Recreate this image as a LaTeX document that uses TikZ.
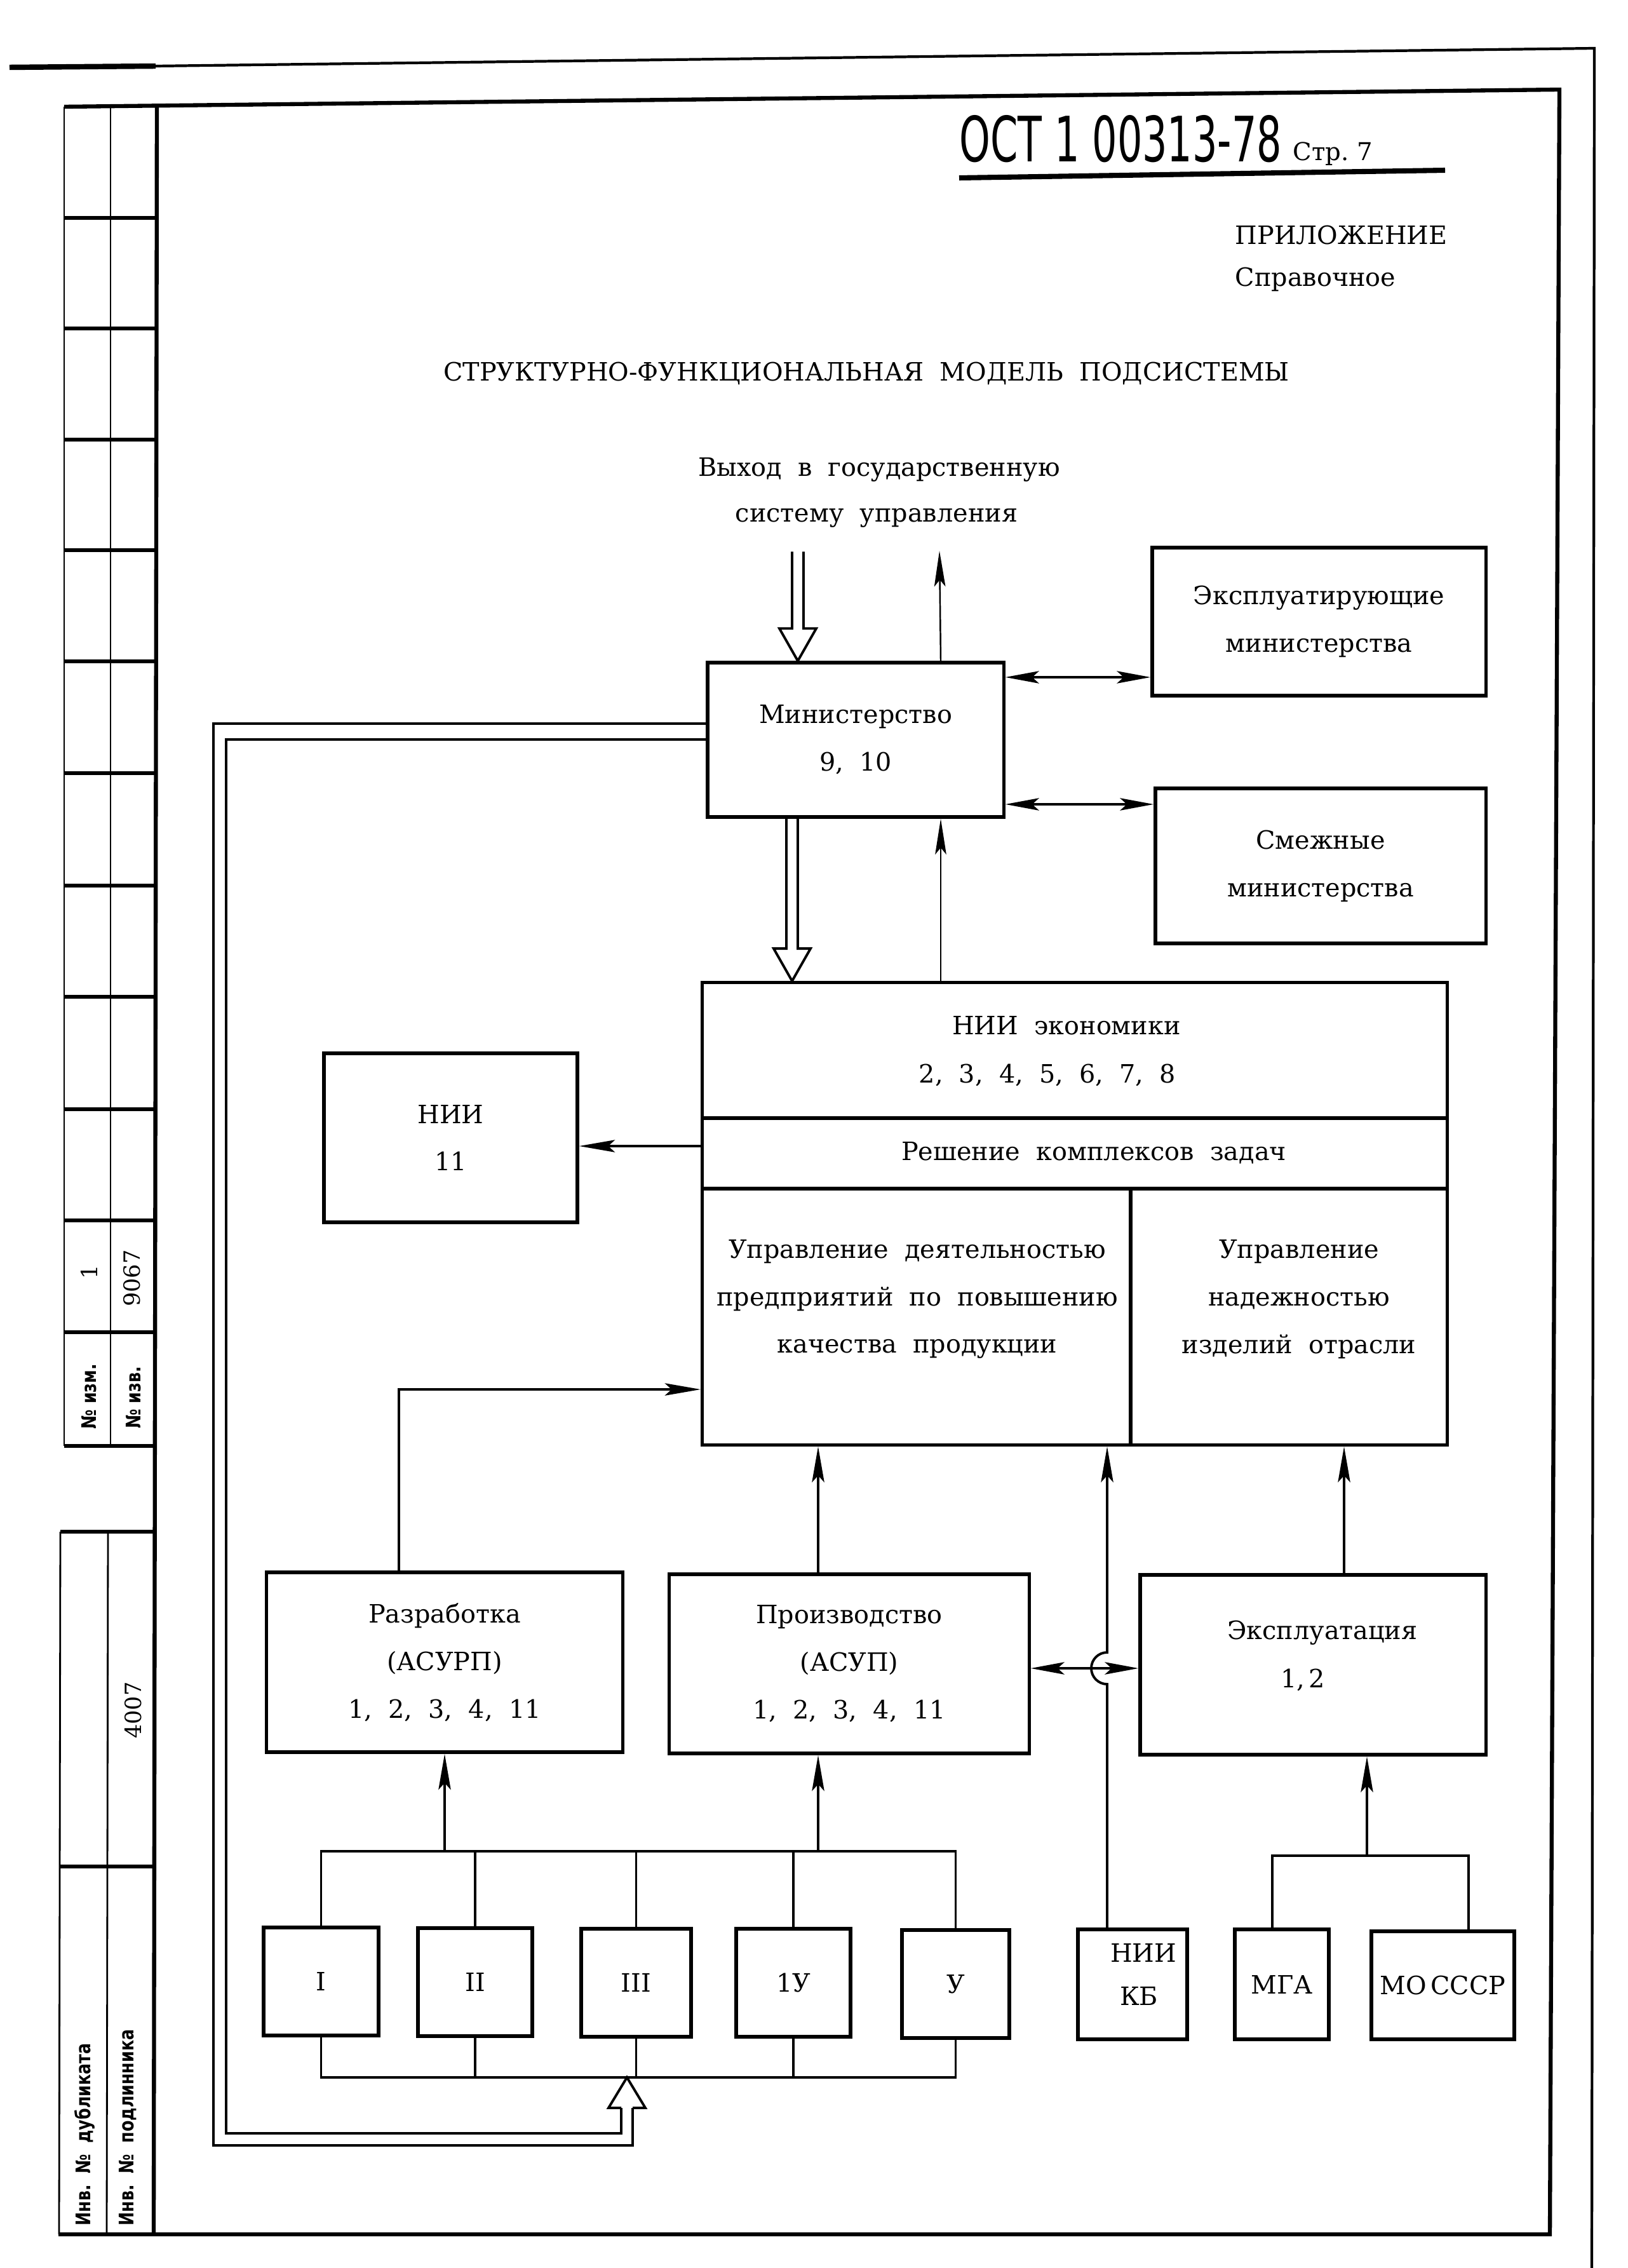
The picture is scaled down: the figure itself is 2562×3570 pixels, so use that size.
\documentclass[tikz,border=0pt]{standalone}
\usepackage{fontspec}
\usepackage{graphicx}
\setmainfont{DejaVu Serif}
\newfontfamily\hdrfont{DejaVu Sans}
\newfontfamily\stripfont{DejaVu Sans}
\usetikzlibrary{arrows.meta,calc}
\newcommand\boxfont{\fontsize{11.3}{21.3}\selectfont}
\newcommand\stripf{\stripfont\bfseries\fontsize{9}{10}\selectfont}
\newcommand\stripn{\mdseries\fontspec{DejaVu Serif}\fontsize{10}{10}\selectfont}
\begin{document}
\begin{tikzpicture}[x=0.01cm,y=-0.01cm,
  box/.style={draw, line width=1.5pt, inner sep=0pt, align=center, font=\boxfont},
  txt/.style={inner sep=0pt, font=\boxfont},
  conn/.style={line width=1.1pt},
  arr/.style={line width=1.1pt, -{Stealth[length=16pt,width=5.5pt,inset=3pt]}},
  thinarr/.style={line width=0.7pt, -{Stealth[length=16pt,width=5pt,inset=3pt]}},
  darr/.style={line width=1.2pt, {Stealth[length=15pt,width=5.5pt,inset=3pt]}-{Stealth[length=15pt,width=5.5pt,inset=3pt]}},
  hol/.style={line width=1.1pt, line join=miter},
  fb/.style={line width=1.3pt},
  frame/.style={line width=1.8pt},
  stripline/.style={line width=0.8pt},
  stripdiv/.style={line width=1.5pt},
  striptxt/.style={inner sep=0pt, rotate=90, font=\stripf}]
\useasboundingbox (0,0) rectangle (2562,3570);

% ---- sheet edges and frame ----
\draw[line width=2.4pt] (15,106) -- (245,104);
\draw[line width=1.2pt] (245,104) -- (2510,76) -- (2506,3570);
\draw[frame] (101,168) -- (2455,141) -- (2440,3517) -- (92,3517);
\draw[frame] (247,167) -- (242,3517);
% upper strip
\draw[stripline] (101,168) -- (101,2276);
\draw[stripline] (174,168) -- (174,2276);
\foreach \yy in {343,517,692,866,1041,1217,1394,1569,1746,1921,2097,2276}
  \draw[stripdiv] (101,\yy) -- (246,\yy);
% lower strip
\draw[stripline] (95,2411) -- (93,3517);
\draw[stripline] (170,2411) -- (168,3517);
\draw[stripdiv] (95,2411) -- (245,2411);
\draw[stripdiv] (94,2938) -- (244,2938);
% strip texts
\node[striptxt] (s1) at (140,2002) {\stripn 1};
\node[striptxt] (s2) at (208,2012) {\stripn 9067};
\node[striptxt] (s3) at (140,2198) {\scalebox{0.8}[1]{№\ изм.}};
\node[striptxt] (s4) at (210,2200) {\scalebox{0.8}[1]{№\ изв.}};
\node[striptxt] (s5) at (210,2692) {\stripn 4007};
\node[striptxt] (s6) at (133,3360) {\scalebox{0.8}[1]{Инв.\ \ №\ \ дубликата}};
\node[striptxt] (s7) at (201,3349) {\scalebox{0.8}[1]{Инв.\ \ №\ \ подлинника}};

% ---- header ----
\node[anchor=base west, inner sep=0pt] (ost) at (1510,255)
  {\hdrfont\fontsize{28}{28}\selectfont\scalebox{0.63}[1]{ОСТ\ 1\ 00313-78}};
\node[anchor=base west, inner sep=0pt] (page) at (2035,253)
  {\fontsize{11}{12}\selectfont Стр.\ 7};
\draw[line width=2.3pt] (1510,280) -- (2275,268);
\node[txt, anchor=west] (pril) at (1944,370) {ПРИЛОЖЕНИЕ};
\node[txt, anchor=west] (sprav) at (1944,440) {Справочное};
\node[txt] (title) at (1364,588) {СТРУКТУРНО-ФУНКЦИОНАЛЬНАЯ\ \ МОДЕЛЬ\ \ ПОДСИСТЕМЫ};
\node[txt] (vyh1) at (1384,739) {Выход\ \ в\ \ государственную};
\node[txt] (vyh2) at (1380,815) {систему\ \ управления};

% ---- boxes ----
\node[box, minimum width=4.66cm, minimum height=2.43cm] (min) at (1347,1164.5) {Министерство\\9,\ \ 10};
\node[box, minimum width=5.25cm, minimum height=2.33cm] (expl) at (2076.5,978.5) {Эксплуатирующие\\министерства};
\node[box, minimum width=5.20cm, minimum height=2.44cm] (smezh) at (2079,1363) {Смежные\\министерства};
\node[box, minimum width=11.72cm, minimum height=7.27cm] (econ) at (1692,1910.5) {};
\node[box, minimum width=3.99cm, minimum height=2.66cm] (nii11) at (709.5,1791) {НИИ\\11};
\node[box, minimum width=5.60cm, minimum height=2.83cm] (razr) at (700,2616.5) {Разработка\\(АСУРП)\\1,\ \ 2,\ \ 3,\ \ 4,\ \ 11};
\node[box, minimum width=5.66cm, minimum height=2.82cm] (proizv) at (1337,2619) {Производство\\(АСУП)\\1,\ \ 2,\ \ 3,\ \ 4,\ \ 11};
\node[box, minimum width=5.44cm, minimum height=2.83cm] (ekspl) at (2067,2620.5) {};
\node[txt] (eksplt1) at (2082,2570) {Эксплуатация};
\node[txt] (eksplt2) at (2051,2644) {1,\,2};
\node[box, minimum width=1.81cm, minimum height=1.70cm] (b1) at (505.5,3119) {I};
\node[box, minimum width=1.80cm, minimum height=1.70cm] (b2) at (748,3120) {II};
\node[box, minimum width=1.73cm, minimum height=1.70cm] (b3) at (1001.5,3121) {III};
\node[box, minimum width=1.80cm, minimum height=1.70cm] (b4) at (1249,3121) {1У};
\node[box, minimum width=1.69cm, minimum height=1.70cm] (b5) at (1504.5,3123) {У};
\node[box, minimum width=1.72cm, minimum height=1.73cm] (niikb) at (1783,3123.5) {};
\node[txt, align=center] (niikbt) at (1800,3108) {НИИ\\[-2pt]\hspace*{-4pt}КБ};
\node[box, minimum width=1.48cm, minimum height=1.73cm] (mga) at (2018,3123.5) {МГА};
\node[box, minimum width=2.25cm, minimum height=1.70cm] (mo) at (2271.5,3125) {МО\,СССР};

% econ inner structure
\coordinate (d1) at (0,1760);
\coordinate (d2) at (0,1871);
\coordinate (vd) at (1780,0);
\draw[line width=1.5pt] (econ.west |- d1) -- (econ.east |- d1);
\draw[line width=1.5pt] (econ.west |- d2) -- (econ.east |- d2);
\draw[line width=1.5pt] (vd |- d2) -- (vd |- econ.south);
\node[txt] (e1) at (1679,1614) {НИИ\ \ экономики};
\node[txt] (e2) at (1649,1692) {2,\ \ 3,\ \ 4,\ \ 5,\ \ 6,\ \ 7,\ \ 8};
\node[txt] (e3) at (1722,1815) {Решение\ \ комплексов\ \ задач};
\node[txt, align=center] (e4) at (1444,2045) {Управление\ \ деятельностью\\предприятий\ \ по\ \ повышению\\качества\ \ продукции};
\node[txt, align=center] (e5) at (2045,2045) {Управление\\надежностью\\изделий\ \ отрасли};

% ---- connectors ----
\coordinate (upx) at (1481,0);
\coordinate (outtip) at (1479,867);
\draw[thinarr] (min.north -| upx) -- (outtip);
\draw[thinarr] (econ.north -| upx) -- (min.south -| upx);
\coordinate (ya) at (0,1066);
\coordinate (yb) at (0,1266);
\draw[darr] (min.east |- ya) -- (expl.west |- ya);
\draw[darr] (min.east |- yb) -- (smezh.west |- yb);

% hollow arrow into Министерство
\coordinate (h1) at (1256,0);
\draw[hol] ($(min.north -| h1)+(-9,-172)$) -- ++(0,121) -- ++(-20,0) -- (min.north -| h1)
  -- ++(29,-51) -- ++(-20,0) -- ++(0,-121);
% hollow arrow Министерство -> НИИ экономики
\coordinate (h2) at (1247,0);
\draw[hol] ($(econ.north -| h2)+(-9,-261)$) -- ++(0,210) -- ++(-20,0) -- (econ.north -| h2)
  -- ++(29,-51) -- ++(-20,0) -- ++(0,-210);

% econ -> НИИ 11
\coordinate (ny) at (0,1804);
\draw[arr] (econ.west |- ny) -- (nii11.east |- ny);

% Разработка -> econ
\coordinate (rx) at (628,2187);
\draw[arr] (razr.north -| rx) |- (econ.west |- rx);
% Производство -> econ
\coordinate (px) at (1288,0);
\draw[arr] (proizv.north -| px) -- (econ.south -| px);
% Эксплуатация -> econ
\coordinate (ex) at (2116,0);
\draw[arr] (ekspl.north -| ex) -- (econ.south -| ex);
% Производство <-> Эксплуатация
\coordinate (hy) at (0,2626);
\draw[darr] (proizv.east |- hy) -- (ekspl.west |- hy);
% НИИ КБ -> econ with hop
\coordinate (kx) at (1743,0);
\draw[arr] (niikb.north -| kx) -- ($(kx |- hy)+(0,25)$) arc[start angle=270, end angle=90, radius=0.25cm] -- (econ.south -| kx);

% buses of I..V
\coordinate (tb) at (0,2914);
\coordinate (bb) at (0,3270);
\draw[conn] (b1.north) |- (b5.north |- tb) -- (b5.north);
\draw[conn] (b1.south) |- (b5.south |- bb) -- (b5.south);
\foreach \n in {b2,b3,b4} {
  \draw[conn] (\n.north) -- (\n.north |- tb);
  \draw[conn] (\n.south) -- (\n.south |- bb);
}
\draw[arr] (razr.south |- tb) -- (razr.south);
\draw[arr] (px |- tb) -- (proizv.south -| px);

% МГА / МО СССР -> Эксплуатация
\coordinate (my) at (0,2921);
\coordinate (mgx) at (2003,0);
\coordinate (mox) at (2312,0);
\coordinate (ux) at (2152,0);
\draw[conn] (mga.north -| mgx) |- (mox |- my) -- (mo.north -| mox);
\draw[arr] (ux |- my) -- (ekspl.south -| ux);

% feedback double line Министерство -> group I..V
\coordinate (tipb) at (987,3270);
\coordinate (o1) at (336,1139);
\coordinate (i1) at (356,1164);
\draw[fb] (min.west |- o1) -- (o1) |- ($(tipb)+(9,107)$) -- ($(tipb)+(9,48)$);
\draw[fb] (min.west |- i1) -- (i1) |- ($(tipb)+(-9,88)$) -- ($(tipb)+(-9,48)$);
\draw[hol] ($(tipb)+(-9,48)$) -- ++(-20,0) -- (tipb) -- ++(29,48) -- ++(-20,0);
\end{tikzpicture}
\end{document}
